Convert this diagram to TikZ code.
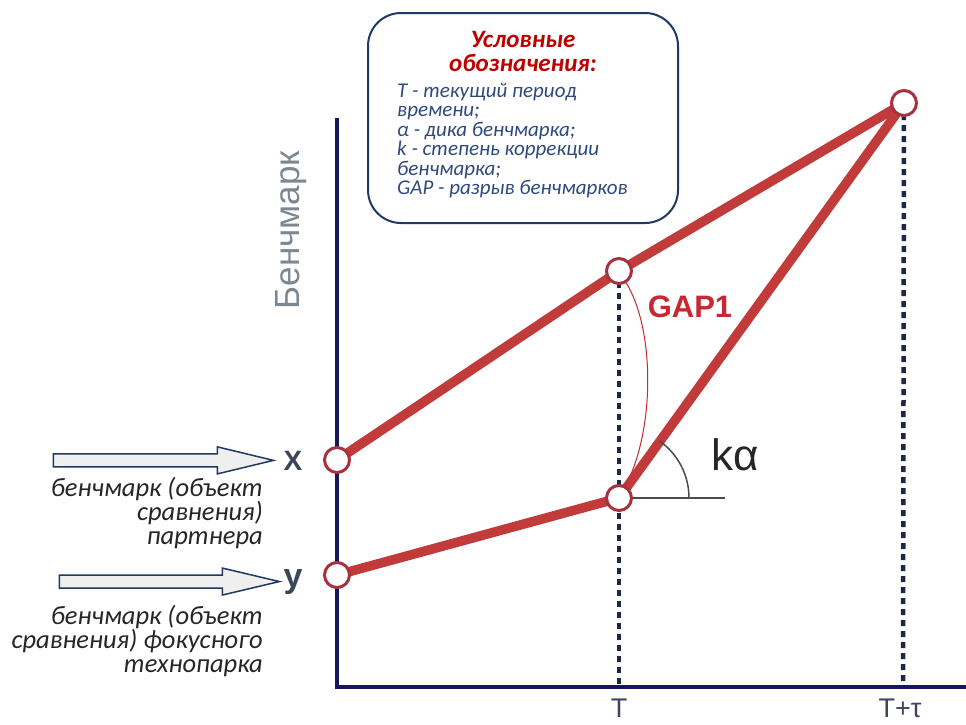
\documentclass[tikz,border=0pt]{standalone}
\usepackage{fontspec}
\setmainfont{Carlito}
\newfontfamily\arialfont{Liberation Sans}
\usetikzlibrary{positioning, backgrounds, calc}
\definecolor{lineRed}{HTML}{C23B3B}
\definecolor{ptRed}{HTML}{A5323C}
\definecolor{gapRed}{HTML}{C82832}
\definecolor{titleRed}{HTML}{C00000}
\definecolor{axisNavy}{HTML}{16165C}
\definecolor{dotNavy}{HTML}{1E2846}
\definecolor{boxNavy}{HTML}{1F3864}
\definecolor{legBlue}{HTML}{2E4A7D}
\definecolor{labGray}{HTML}{3C465A}
\definecolor{benchGray}{HTML}{7D8791}
\definecolor{arrGray}{HTML}{EFEFEF}

\begin{document}
\begin{tikzpicture}[x=1pt, y=-1pt,
    pt/.style={circle, draw=ptRed, line width=3pt, fill=white, minimum size=25pt, inner sep=0pt},
    redline/.style={line width=9.5pt, draw=lineRed},
    axisline/.style={line width=4.5pt, draw=axisNavy},
    dotline/.style={line width=4.5pt, draw=dotNavy, dash pattern=on 6pt off 5pt},
    blockarr/.style={draw=boxNavy, fill=arrGray, line width=1.5pt},
    axlabel/.style={font=\arialfont\fontsize{27}{27}\selectfont, text=labGray, inner sep=0pt},
    lefttxt/.style={font=\fontsize{26.5}{24}\selectfont\itshape, align=right, inner sep=0pt, text=black!85},
    legendbox/.style={draw=boxNavy, line width=2pt, rounded corners=33pt, fill=white, minimum width=310pt, minimum height=210pt},
    legtitle/.style={font=\fontsize{25}{24}\selectfont\bfseries\itshape, text=titleRed, align=center, inner sep=0pt},
    legbody/.style={font=\fontsize{21}{19.5}\selectfont\itshape, text=legBlue, align=left, inner sep=0pt},
    thinline/.style={line width=1.5pt, draw=black!70}]
  \useasboundingbox (0,0) rectangle (966,724);

  % axes
  \coordinate (ytop) at (337,118);
  \coordinate (xend) at (966,687);
  \coordinate (tb) at (619,687);
  \coordinate (qb) at (903,687);
  \draw[axisline] (ytop) |- (xend);

  % points
  \node[pt] (px) at (337,460) {};
  \node[pt] (py) at (337,575) {};
  \node[pt] (t1) at (619,271) {};
  \node[pt] (t2) at (619,498) {};
  \node[pt] (q) at (904,103) {};

  \begin{scope}[on background layer]
    \draw[dotline] (t1.center) -- (tb);
    \draw[dotline] (q.center) -- (qb);
    \draw[redline] (px.center) -- (t1.center) -- (q.center);
    \draw[redline] (py.center) -- (t2.center) -- (q.center);
  \end{scope}

  % gap and angle
  \draw[gapRed, line width=1pt] (t1) .. controls (655,330) and (655,430) .. (t2);
  \coordinate (hz) at (725,498);
  \draw[thinline] (t2) -- (hz);
  \draw[thinline] ([xshift=70pt]t2.center) arc[start angle=0, end angle=-54.6, radius=70];
  \node[font=\arialfont\fontsize{31}{31}\selectfont\bfseries, text=gapRed, inner sep=0pt] (gap) at (690,307) {GAP1};
  \node[font=\arialfont\fontsize{44}{44}\selectfont, text=black!85, inner sep=0pt] (ka) at (735,455) {kα};

  % axis labels
  \node[font=\arialfont\fontsize{35}{35}\selectfont, text=benchGray, rotate=90, inner sep=0pt] (bench) at (291,230) {Бенчмарк};
  \node[axlabel, anchor=base, font=\arialfont\bfseries\fontsize{28}{28}\selectfont] (lx) at (293,470) {X};
  \node[axlabel, anchor=base, font=\arialfont\bfseries\fontsize{34}{34}\selectfont] (ly) at (293,587) {y};
  \node[axlabel, anchor=north] (tlab) at (619,699) {T};
  \node[axlabel, anchor=north] (tlab2) at (900,699) {T+τ};

  % block arrows and captions
  \draw[blockarr] ([xshift=-10pt]lx.west) -- ++(-56,-13.5) -- ++(0,7) -- ++(-164,0) -- ++(0,13) -- ++(164,0) -- ++(0,7) -- cycle;
  \draw[blockarr] ([xshift=-4pt]ly.west) -- ++(-57,-13.5) -- ++(0,7) -- ++(-163,0) -- ++(0,13) -- ++(163,0) -- ++(0,7) -- cycle;
  \node[lefttxt, anchor=north east] (capx) at (263,477) {бенчмарк (объект\\сравнения)\\партнера};
  \node[lefttxt, anchor=north east] (capy) at (263,605) {бенчмарк (объект\\сравнения) фокусного\\технопарка};

  % legend
  \node[legendbox] (legend) at (523,118) {};
  \node[legtitle, below=19pt of legend.north] (ttl) {Условные\\обозначения:};
  \node[legbody, below right=71pt and 30pt of legend.north west] (lbody) {T - текущий период\\времени;\\α - дика бенчмарка;\\k - степень коррекции\\бенчмарка;\\GAP - разрыв бенчмарков};
\end{tikzpicture}
\end{document}
